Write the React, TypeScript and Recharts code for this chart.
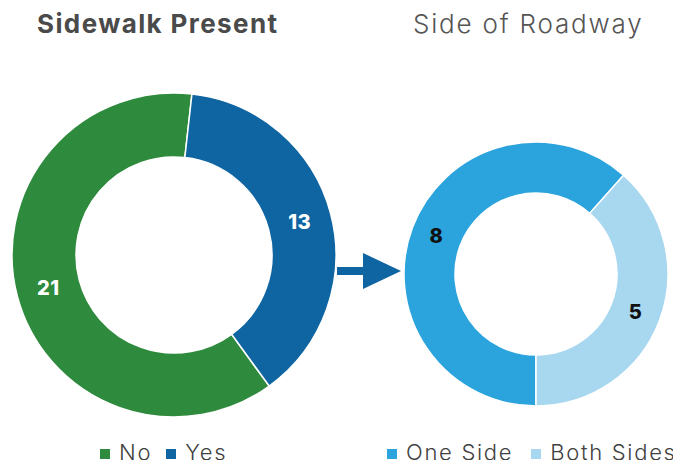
import React from "react";
import { PieChart, Pie, Cell } from "recharts";

const presentNames = ["No", "Yes"];
const presentValues = [21, 13];
const presentColors = ["#2e8a3c", "#0f65a1"];

const sideNames = ["One Side", "Both Sides"];
const sideValues = [8, 5];
const sideColors = ["#2ba3dd", "#a8d7f0"];

const presentData = presentNames.map((name, i) => ({ name, value: presentValues[i] }));
const sideData = sideNames.map((name, i) => ({ name, value: sideValues[i] }));

const FONT = "Inter, 'Open Sans', sans-serif";
const RADIAN = Math.PI / 180;

function makeLabel(color: string) {
  return ({ cx, cy, midAngle, innerRadius, outerRadius, value }: any) => {
    const r = (innerRadius + outerRadius) / 2;
    const x = cx + r * Math.cos(-midAngle * RADIAN);
    const y = cy + r * Math.sin(-midAngle * RADIAN);
    return (
      <text
        x={x}
        y={y}
        fill={color}
        textAnchor="middle"
        dominantBaseline="central"
        style={{ fontFamily: FONT, fontWeight: 800, fontSize: 20, letterSpacing: 0.5 }}
      >
        {value}
      </text>
    );
  };
}

function LegendRow({ names, colors, left, gap }: { names: string[]; colors: string[]; left: number; gap: number }) {
  return (
    <div
      style={{
        position: "absolute",
        left,
        top: 441,
        display: "flex",
        gap,
        fontFamily: FONT,
        fontWeight: 300,
        fontSize: 22,
        lineHeight: "22px",
        letterSpacing: 1.7,
        color: "#404040",
        whiteSpace: "nowrap",
      }}
    >
      {names.map((n, i) => (
        <span key={n} style={{ display: "flex", alignItems: "center" }}>
          <span style={{ width: 10, height: 10, background: colors[i], marginRight: 9, marginTop: 3, display: "inline-block" }} />
          {n}
        </span>
      ))}
    </div>
  );
}

export default function App() {
  return (
    <div style={{ position: "relative", margin: -8, width: 681, height: 468, background: "#fff", overflow: "hidden" }}>
      <div
        style={{
          position: "absolute",
          left: 37,
          top: 11,
          fontFamily: FONT,
          fontWeight: 700,
          fontSize: 26,
          lineHeight: "26px",
          color: "#4a4a4a",
          letterSpacing: 1.4,
          whiteSpace: "nowrap",
        }}
      >
        Sidewalk Present
      </div>
      <div
        style={{
          position: "absolute",
          left: 413,
          top: 11,
          fontFamily: FONT,
          fontWeight: 300,
          fontSize: 26,
          lineHeight: "26px",
          color: "#555",
          letterSpacing: 1.8,
          whiteSpace: "nowrap",
        }}
      >
        Side of Roadway
      </div>
      <PieChart
        width={681}
        height={468}
        margin={{ top: 0, right: 0, bottom: 0, left: 0 }}
        style={{ position: "absolute", left: 0, top: 0 }}
      >
        <Pie
          data={presentData}
          dataKey="value"
          cx={174}
          cy={255}
          innerRadius={98}
          outerRadius={162}
          startAngle={-54}
          endAngle={-414}
          stroke="#fff"
          strokeWidth={1.5}
          labelLine={false}
          label={makeLabel("#fff")}
          isAnimationActive={false}
        >
          {presentData.map((d, i) => (
            <Cell key={d.name} fill={presentColors[i]} />
          ))}
        </Pie>
        <Pie
          data={sideData}
          dataKey="value"
          cx={536}
          cy={274}
          innerRadius={81}
          outerRadius={132}
          startAngle={-90}
          endAngle={-450}
          stroke="#fff"
          strokeWidth={1.5}
          labelLine={false}
          label={makeLabel("#111")}
          isAnimationActive={false}
        >
          {sideData.map((d, i) => (
            <Cell key={d.name} fill={sideColors[i]} />
          ))}
        </Pie>
      </PieChart>
      <svg width={681} height={468} style={{ position: "absolute", left: 0, top: 0, pointerEvents: "none" }}>
        <rect x={337} y={267} width={28} height={8} fill="#0f65a1" />
        <polygon points="363,253 401,271 363,289" fill="#0f65a1" />
      </svg>
      <LegendRow names={presentNames} colors={presentColors} left={100} gap={14} />
      <LegendRow names={sideNames} colors={sideColors} left={387} gap={18} />
    </div>
  );
}
